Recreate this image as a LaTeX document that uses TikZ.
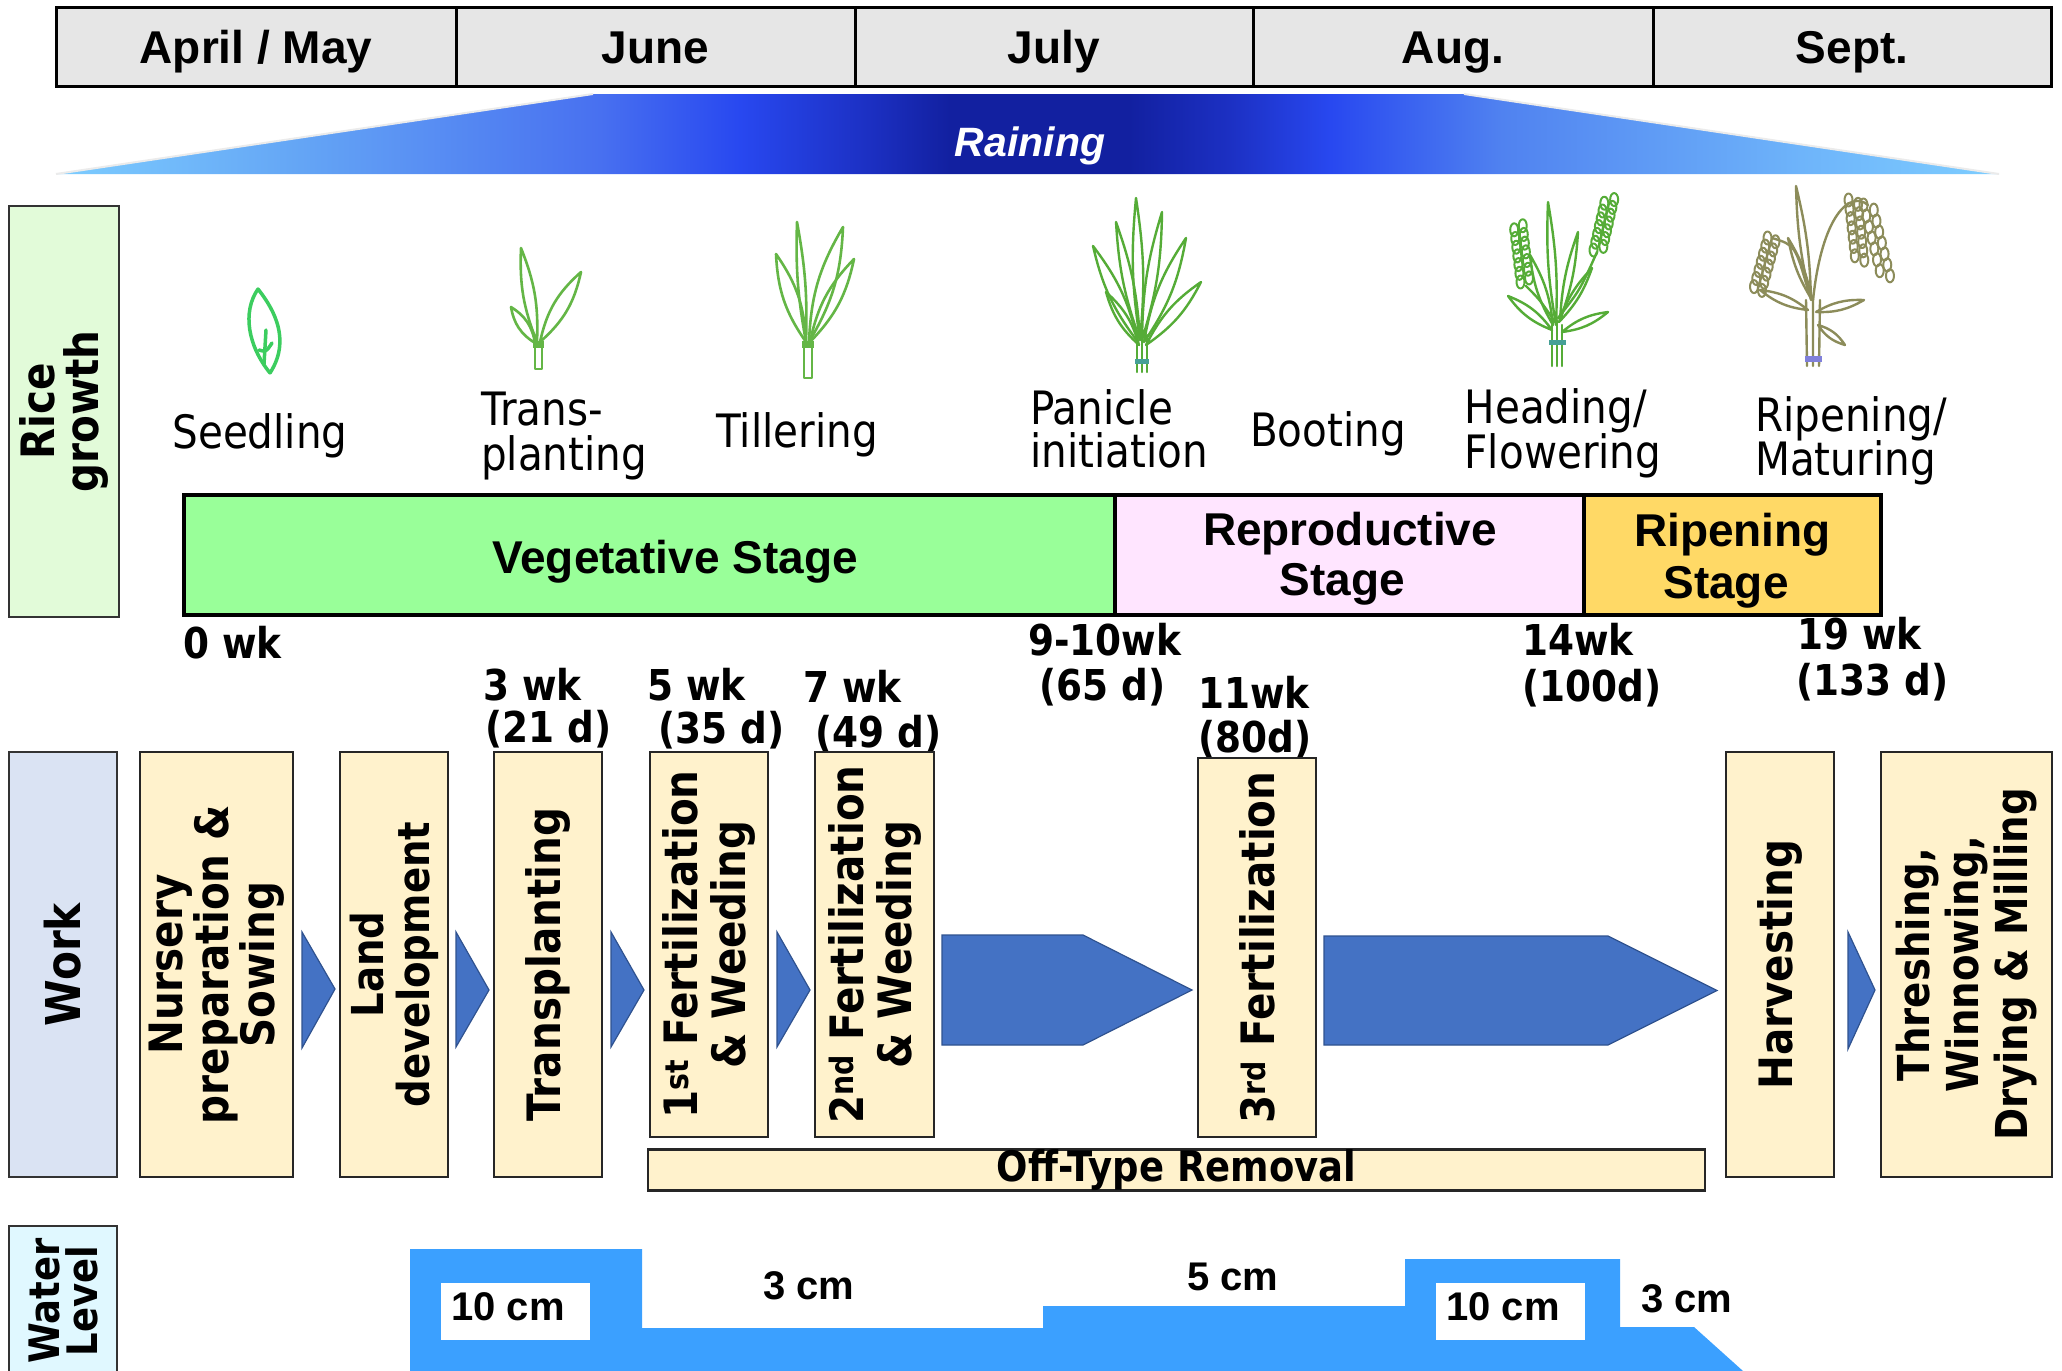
\documentclass[tikz,border=0pt]{standalone}
\usepackage{fontspec}
\setmainfont{Liberation Sans}
\newfontfamily\vfont{DejaVu Sans}[FakeStretch=0.88]
\usetikzlibrary{calc}

\newcommand\fsz[1]{\fontsize{#1}{#1}\selectfont}

\definecolor{hdrgray}{RGB}{230,230,230}
\definecolor{riceg}{RGB}{226,251,217}
\definecolor{workbl}{RGB}{218,227,243}
\definecolor{waterc}{RGB}{224,248,255}
\definecolor{vegc}{RGB}{153,255,153}
\definecolor{repc}{RGB}{255,229,255}
\definecolor{ripc}{RGB}{255,217,102}
\definecolor{taskc}{RGB}{255,242,204}
\definecolor{arrowc}{RGB}{68,114,196}
\definecolor{arrowe}{RGB}{47,82,143}
\definecolor{waterblue}{RGB}{59,160,255}
\definecolor{seedg}{RGB}{60,205,95}
\definecolor{leafg}{RGB}{100,182,70}
\definecolor{leafd}{RGB}{85,172,55}
\definecolor{olivec}{RGB}{140,140,90}
\definecolor{bandc}{RGB}{70,160,150}
% rain band colours, light at the edges and deep blue in the middle
\definecolor{rs0}{RGB}{125,205,255}
\definecolor{rs1}{RGB}{100,165,245}
\definecolor{rs2}{RGB}{72,112,240}
\definecolor{rs3}{RGB}{40,72,240}
\definecolor{rs4}{RGB}{28,48,195}
\definecolor{rs5}{RGB}{18,32,160}
\definecolor{rs6}{RGB}{80,130,240}
\definecolor{rs7}{RGB}{110,180,250}
\pgfdeclarehorizontalshading{rainshade}{100bp}{color(0bp)=(rs0); color(25bp)=(rs0); color(31.3bp)=(rs1); color(39bp)=(rs2); color(42.6bp)=(rs3); color(45.9bp)=(rs4); color(48bp)=(rs5); color(52.6bp)=(rs5); color(55.2bp)=(rs4); color(57.8bp)=(rs3); color(62.2bp)=(rs6); color(69.9bp)=(rs7); color(75bp)=(rs0); color(100bp)=(rs0)}

% a lens-shaped leaf from base #1 to tip #2, bulging by angle #3
\newcommand\leaf[3]{\draw #1 to[bend left=#3] #2 to[bend left=#3] #1;}
% a cluster of grains along the segment #1 -- #2
\newcommand\grains[2]{%
  \foreach \t in {0,0.15,...,0.95} {%
    \draw ($#1!\t!#2+(-4.5,0)$) ellipse [x radius=4, y radius=6.5];
    \draw ($#1!\t+0.07!#2+(4.5,0)$) ellipse [x radius=4, y radius=6.5];
  }}

\tikzset{
  month/.style={draw=black, line width=3pt, fill=hdrgray, minimum height=79pt,
    inner sep=0pt, text height=33pt, text depth=0pt, font=\bfseries\fsz{46}},
  side/.style={draw=black!80, line width=2.5pt, rotate=90, inner sep=0pt,
    align=center, font=\vfont\bfseries\fontsize{46}{44}\selectfont},
  stagebar/.style={draw=black, line width=4pt, inner sep=0pt, minimum height=120pt},
  stagetxt/.style={inner sep=0pt, anchor=base, font=\bfseries\fsz{46}},
  plantlbl/.style={inner sep=0pt, font=\vfont\fsz{46}},
  timelbl/.style={inner sep=0pt, anchor=base west, font=\vfont\bfseries\fsz{42.5}},
  task/.style={draw=black!85, line width=2.5pt, fill=taskc, rotate=90, inner sep=0pt,
    align=center, font=\vfont\bfseries\fontsize{46}{48}\selectfont},
  chevron/.style={fill=arrowc, draw=arrowe, line width=1.2pt},
  wlbl/.style={inner sep=0pt, font=\bfseries\fsz{40}},
  leafline/.style={line width=2.6pt, line cap=round, line join=round},
}

\begin{document}
\begin{tikzpicture}[x=1pt, y=-1pt]
\useasboundingbox (0,0) rectangle (2062,1371);
\fill[white] (0,0) rectangle (2062,1371);

% ---------- months ----------
\node[month, minimum width=400pt] (m1) at (256,46.5) {April / May};
\node[month, minimum width=399pt] (m2) at (655.5,46.5) {June};
\node[month, minimum width=398pt] (m3) at (1054,46.5) {July};
\node[month, minimum width=400pt] (m4) at (1453,46.5) {Aug.};
\node[month, minimum width=398pt] (m5) at (1852,46.5) {Sept.};

% ---------- rain band ----------
\shade[shading=rainshade] (56,174) -- (593,94) -- (1464,94) -- (1999,174) -- cycle;
\draw[black!8, line width=2pt] (56,174) -- (593,94) (1464,94) -- (1999,174);
\node[inner sep=0pt, text=white, anchor=base, font=\bfseries\itshape\fsz{41}] (rain) at (1030,156) {Raining};

% ---------- side labels ----------
\node[side, fill=riceg, minimum width=411pt, minimum height=110pt] (rg) at (64,411.5) {Rice\\growth};
\node[side, fill=workbl, minimum width=425pt, minimum height=108pt,
      font=\vfont\bfseries\fsz{48}] (wk) at (63,964.5) {Work};
\node[side, fill=waterc, minimum width=150pt, minimum height=108pt,
      font=\vfont\bfseries\fontsize{42}{38}\selectfont] (wl) at (63,1301) {Water\\Level};

% ---------- plants ----------
% seedling
\begin{scope}[leafline, draw=seedg, line width=3.5pt]
  \draw (270,373) .. controls (294,336) and (268,302) .. (258,289) .. controls (242,312) and (248,346) .. (270,373);
  \draw (264,364) -- (266,330);
  \draw (259,350) .. controls (266,352) .. (272,343);
\end{scope}
% transplanting
\begin{scope}[leafline, draw=leafg, fill=leafg]
  \draw (535,346) rectangle (542,369);
  \fill (533,341) rectangle (544,348);
  \leaf{(537,342)}{(521,248)}{12}
  \leaf{(540,342)}{(581,272)}{18}
  \leaf{(535,343)}{(511,307)}{24}
\end{scope}
% tillering
\begin{scope}[leafline, draw=leafg, fill=leafg]
  \draw (804,347) rectangle (812,378);
  \fill (802,341) rectangle (814,348);
  \leaf{(806,342)}{(797,222)}{6}
  \leaf{(809,342)}{(843,227)}{14}
  \leaf{(806,342)}{(776,254)}{16}
  \leaf{(810,342)}{(854,259)}{16}
\end{scope}
% panicle initiation
\begin{scope}[leafline, draw=leafd, line width=2.4pt]
  \draw (1137,372) -- (1137,335) (1142,372) -- (1142,335) (1147,372) -- (1147,335);
  \fill[bandc] (1135,359) rectangle (1149,364);
  \leaf{(1140,340)}{(1136,198)}{7}
  \leaf{(1138,342)}{(1093,246)}{12}
  \leaf{(1144,342)}{(1186,238)}{12}
  \leaf{(1146,345)}{(1201,282)}{14}
  \leaf{(1139,345)}{(1106,292)}{16}
  \leaf{(1142,340)}{(1162,212)}{8}
  \leaf{(1140,340)}{(1116,222)}{8}
\end{scope}
% heading / flowering
\begin{scope}[leafline, draw=leafd, line width=2.4pt]
  \draw (1552,366) -- (1552,325) (1557,366) -- (1557,320) (1562,366) -- (1562,325);
  \fill[bandc] (1549,340) rectangle (1566,345);
  \leaf{(1552,330)}{(1508,296)}{16}
  \leaf{(1562,332)}{(1608,312)}{16}
  \leaf{(1556,325)}{(1548,202)}{6}
  \leaf{(1559,322)}{(1592,268)}{12}
  \leaf{(1553,325)}{(1530,255)}{12}
  \leaf{(1560,320)}{(1578,232)}{8}
  \draw (1555,322) .. controls (1540,300) .. (1526,286);
  \draw (1558,318) .. controls (1580,290) .. (1597,252);
  \begin{scope}[line width=2pt]
    \grains{(1525,282)}{(1518,224)}
    \grains{(1598,250)}{(1610,198)}
  \end{scope}
\end{scope}
% ripening / maturing
\begin{scope}[leafline, draw=olivec, line width=2.4pt]
  \draw (1807,366) -- (1806,300) (1813,366) -- (1813,296) (1819,366) -- (1820,300);
  \fill[black!30!blue!50] (1805,356) rectangle (1822,362);
  \leaf{(1811,300)}{(1796,186)}{6}
  \leaf{(1808,310)}{(1760,290)}{16}
  \leaf{(1816,312)}{(1864,300)}{16}
  \leaf{(1812,300)}{(1788,238)}{10}
  \leaf{(1818,325)}{(1845,345)}{20}
  \draw (1813,300) .. controls (1822,215) and (1850,190) .. (1868,205);
  \draw (1808,290) .. controls (1795,245) .. (1772,238);
  \begin{scope}[line width=2pt]
    \grains{(1868,205)}{(1886,278)}
    \grains{(1853,200)}{(1860,262)}
    \grains{(1772,238)}{(1757,292)}
  \end{scope}
\end{scope}

% ---------- growth stage labels ----------
\node[plantlbl, anchor=base] (lseed) at (260,448) {Seedling};
\node[plantlbl, anchor=base west] (ltra) at (481,425) {Trans-};
\node[plantlbl, anchor=base west] (ltrb) at (481,470) {planting};
\node[plantlbl, anchor=base] (ltil) at (797,447) {Tillering};
\node[plantlbl, anchor=base west] (lpana) at (1030,424) {Panicle};
\node[plantlbl, anchor=base west] (lpanb) at (1030,467) {initiation};
\node[plantlbl, anchor=base] (lboot) at (1328,446) {Booting};
\node[plantlbl, anchor=base west] (lheada) at (1464.5,423) {Heading/};
\node[plantlbl, anchor=base west] (lheadb) at (1464.5,468) {Flowering};
\node[plantlbl, anchor=base west] (lripa) at (1755,431) {Ripening/};
\node[plantlbl, anchor=base west] (lripb) at (1755,475) {Maturing};

% ---------- stage bar ----------
\node[stagebar, fill=vegc, minimum width=931pt] (veg) at (649.5,555) {};
\node[stagebar, fill=repc, minimum width=469pt] (rep) at (1349.5,555) {};
\node[stagebar, fill=ripc, minimum width=297pt] (rip) at (1732.5,555) {};
\node[stagetxt] (tveg) at (675,573) {Vegetative Stage};
\node[stagetxt] (trepa) at (1350,545) {Reproductive};
\node[stagetxt] (trepb) at (1342.5,595) {Stage};
\node[stagetxt] (tripa) at (1732.5,546) {Ripening};
\node[stagetxt] (tripb) at (1726,598) {Stage};

% ---------- time marks ----------
\node[timelbl] (t0) at (183,658) {0 wk};
\node[timelbl] (t3a) at (483,700) {3 wk};
\node[timelbl] (t3b) at (485,742) {(21 d)};
\node[timelbl] (t5a) at (647,700) {5 wk};
\node[timelbl] (t5b) at (658,743) {(35 d)};
\node[timelbl] (t7a) at (803,702) {7 wk};
\node[timelbl] (t7b) at (815,747) {(49 d)};
\node[timelbl] (t9a) at (1028,655) {9-10wk};
\node[timelbl] (t9b) at (1039,700) {(65 d)};
\node[timelbl] (t11a) at (1198,708) {11wk};
\node[timelbl] (t11b) at (1198,752) {(80d)};
\node[timelbl] (t14a) at (1522,655) {14wk};
\node[timelbl] (t14b) at (1522,701) {(100d)};
\node[timelbl] (t19a) at (1797,649) {19 wk};
\node[timelbl] (t19b) at (1796,695) {(133 d)};

% ---------- work steps ----------
\node[task, minimum width=425pt, minimum height=153pt,
      font=\vfont\bfseries\fontsize{46}{46}\selectfont] (nur) at (216.5,964.5) {Nursery\\preparation \&\\Sowing};
\node[task, minimum width=425pt, minimum height=108pt,
      font=\vfont\bfseries\fontsize{44}{46}\selectfont] (land) at (394,964.5) {Land\\development};
\node[task, minimum width=425pt, minimum height=108pt] (trans) at (548,964.5) {Transplanting};
\node[task, minimum width=385pt, minimum height=118pt] (f1) at (709,944.5) {1\textsuperscript{st} Fertilization\\\& Weeding};
\node[task, minimum width=385pt, minimum height=119pt] (f2) at (874.5,944.5) {2\textsuperscript{nd} Fertilization\\\& Weeding};
\node[task, minimum width=379pt, minimum height=118pt] (f3) at (1257,947.5) {3\textsuperscript{rd} Fertilization};
\node[task, minimum width=425pt, minimum height=108pt] (harv) at (1780,964.5) {Harvesting};
\node[task, minimum width=425pt, minimum height=171pt,
      font=\vfont\bfseries\fontsize{44}{49}\selectfont] (thr) at (1966.5,964.5) {Threshing,\\Winnowing,\\Drying \& Milling};
\node[draw=black!85, line width=2.5pt, fill=taskc, minimum width=1057pt, minimum height=40pt,
      inner sep=0pt, font=\vfont\bfseries\fsz{42}] (off) at (1176.5,1170) {Off-Type Removal};

% chevrons between steps
\filldraw[chevron] (302,932) -- (335,989) -- (302,1048) -- cycle;
\filldraw[chevron] (456,932) -- (489,990) -- (456,1047) -- cycle;
\filldraw[chevron] (611,932) -- (644,990) -- (611,1047) -- cycle;
\filldraw[chevron] (777,932) -- (810,990) -- (777,1047) -- cycle;
\filldraw[chevron] (942,935) -- (1083,935) -- (1192,990) -- (1083,1045) -- (942,1045) -- cycle;
\filldraw[chevron] (1324,936) -- (1608,936) -- (1717,990.5) -- (1608,1045) -- (1324,1045) -- cycle;
\filldraw[chevron] (1848,932) -- (1875,990) -- (1848,1049) -- cycle;

% ---------- water level ----------
\fill[waterblue] (410,1249) -- (642,1249) -- (642,1328) -- (1043,1328) -- (1043,1306)
  -- (1405,1306) -- (1405,1259) -- (1620,1259) -- (1620,1327) -- (1694,1327)
  -- (1743,1371) -- (410,1371) -- cycle;
\node[fill=white, minimum width=149pt, minimum height=57pt, inner sep=0pt] (wb1) at (515.5,1311.5) {};
\node[fill=white, minimum width=149pt, minimum height=57pt, inner sep=0pt] (wb2) at (1510.5,1311.5) {};
\node[wlbl] (w10a) at (508,1307) {10 cm};
\node[wlbl] (w10b) at (1503,1307) {10 cm};
\node[wlbl] (w3a) at (809,1286) {3 cm};
\node[wlbl] (w5) at (1233,1277) {5 cm};
\node[wlbl] (w3b) at (1687,1298.5) {3 cm};
\end{tikzpicture}
\end{document}
